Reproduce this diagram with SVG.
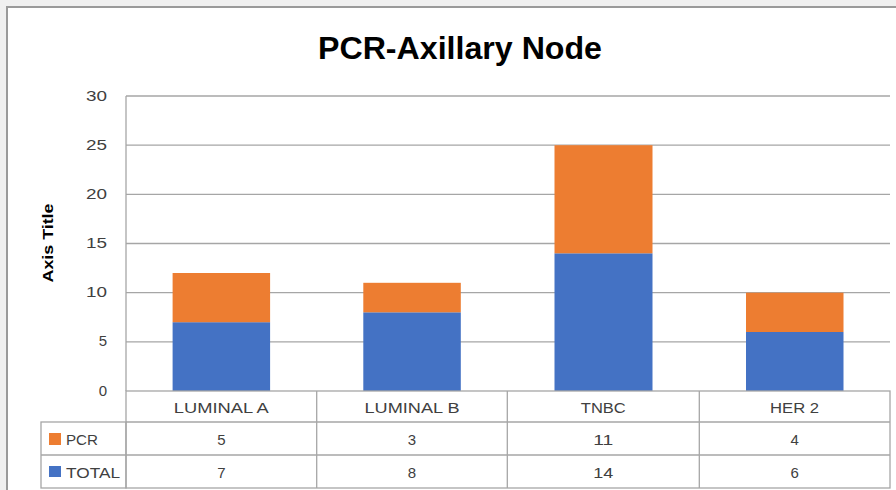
<svg xmlns="http://www.w3.org/2000/svg" width="896" height="490" viewBox="0 0 896 490">
<style>
.grid{stroke:#a6a6a6;stroke-width:1.3;fill:none}
.cell{stroke:#a6a6a6;stroke-width:1.3;fill:none}
.ax{font-family:"Liberation Sans",Arial,sans-serif;font-size:15px;fill:#404040;text-anchor:end}
.tb{font-family:"Liberation Sans",Arial,sans-serif;font-size:15px;fill:#404040;text-anchor:middle}
.lg{font-family:"Liberation Sans",Arial,sans-serif;font-size:15px;fill:#404040}
.pcr{fill:#ED7D31}
.tot{fill:#4472C4}
</style>
<rect x="0" y="0" width="896" height="490" fill="#f0f0f0"/>
<rect x="7" y="7" width="900" height="500" fill="#ffffff" stroke="#9a9a9a" stroke-width="2"/>
<text x="460" y="59" text-anchor="middle" font-family="'Liberation Sans',Arial,sans-serif" font-weight="bold" font-size="32" fill="#000" textLength="284" lengthAdjust="spacingAndGlyphs">PCR-Axillary Node</text>
<text transform="translate(53,243) rotate(-90)" text-anchor="middle" font-family="'Liberation Sans',Arial,sans-serif" font-weight="bold" font-size="14" fill="#000" textLength="79" lengthAdjust="spacingAndGlyphs">Axis Title</text>
<g id="gridlines">
<line class="grid" x1="126" y1="96" x2="890" y2="96"/>
<line class="grid" x1="126" y1="145.2" x2="890" y2="145.2"/>
<line class="grid" x1="126" y1="194.3" x2="890" y2="194.3"/>
<line class="grid" x1="126" y1="243.5" x2="890" y2="243.5"/>
<line class="grid" x1="126" y1="292.7" x2="890" y2="292.7"/>
<line class="grid" x1="126" y1="341.8" x2="890" y2="341.8"/>
<line class="grid" x1="126" y1="96" x2="126" y2="391"/>
</g>
<g id="axis-labels">
<text class="ax" x="107" y="101" textLength="21" lengthAdjust="spacingAndGlyphs">30</text>
<text class="ax" x="107" y="150" textLength="21" lengthAdjust="spacingAndGlyphs">25</text>
<text class="ax" x="107" y="199" textLength="21" lengthAdjust="spacingAndGlyphs">20</text>
<text class="ax" x="107" y="248" textLength="21" lengthAdjust="spacingAndGlyphs">15</text>
<text class="ax" x="107" y="297" textLength="21" lengthAdjust="spacingAndGlyphs">10</text>
<text class="ax" x="107" y="346">5</text>
<text class="ax" x="107" y="396">0</text>
</g>
<g id="bar-luminal-a">
<rect class="tot" x="172.6" y="322.2" width="97.5" height="68.8"/>
<rect class="pcr" x="172.6" y="273" width="97.5" height="49.2"/>
</g>
<g id="bar-luminal-b">
<rect class="tot" x="363.3" y="312.3" width="97.5" height="78.7"/>
<rect class="pcr" x="363.3" y="282.8" width="97.5" height="29.5"/>
</g>
<g id="bar-tnbc">
<rect class="tot" x="554.5" y="253.3" width="98" height="137.7"/>
<rect class="pcr" x="554.5" y="145.2" width="98" height="108.1"/>
</g>
<g id="bar-her2">
<rect class="tot" x="746" y="332" width="97.5" height="59"/>
<rect class="pcr" x="746" y="292.7" width="97.5" height="39.3"/>
</g>
<g id="data-table">
<rect class="cell" x="126" y="391" width="764" height="97"/>
<rect class="cell" x="41" y="422" width="85" height="66"/>
<line class="cell" x1="126" y1="422" x2="890" y2="422"/>
<line class="cell" x1="41" y1="455" x2="890" y2="455"/>
<line class="cell" x1="316.7" y1="391" x2="316.7" y2="488"/>
<line class="cell" x1="507.3" y1="391" x2="507.3" y2="488"/>
<line class="cell" x1="699.3" y1="391" x2="699.3" y2="488"/>
<text class="tb" x="221.3" y="413" textLength="95" lengthAdjust="spacingAndGlyphs">LUMINAL A</text>
<text class="tb" x="412" y="413" textLength="95" lengthAdjust="spacingAndGlyphs">LUMINAL B</text>
<text class="tb" x="603.3" y="413" textLength="45" lengthAdjust="spacingAndGlyphs">TNBC</text>
<text class="tb" x="794.6" y="413" textLength="49" lengthAdjust="spacingAndGlyphs">HER 2</text>
<rect class="pcr" x="49" y="433" width="12" height="12"/>
<text class="lg" x="66" y="445" textLength="32" lengthAdjust="spacingAndGlyphs">PCR</text>
<rect class="tot" x="49" y="466" width="12" height="11"/>
<text class="lg" x="66" y="478" textLength="54" lengthAdjust="spacingAndGlyphs">TOTAL</text>
<text class="tb" x="221.3" y="445">5</text>
<text class="tb" x="412" y="445">3</text>
<text class="tb" x="603.3" y="445" textLength="20" lengthAdjust="spacingAndGlyphs">11</text>
<text class="tb" x="794.6" y="445">4</text>
<text class="tb" x="221.3" y="478">7</text>
<text class="tb" x="412" y="478">8</text>
<text class="tb" x="603.3" y="478" textLength="20" lengthAdjust="spacingAndGlyphs">14</text>
<text class="tb" x="794.6" y="478">6</text>
</g>
</svg>
